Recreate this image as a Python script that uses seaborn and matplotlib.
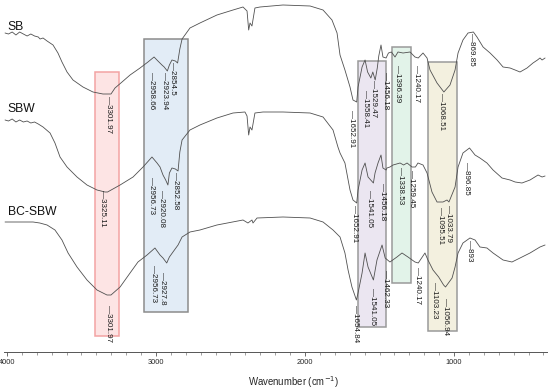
import matplotlib
matplotlib.use("Agg")
import matplotlib.pyplot as plt
from matplotlib.patches import Rectangle
from matplotlib.ticker import MultipleLocator
import seaborn as sns

# spectra (wavenumber in cm-1, transmittance in arbitrary units)
sb_wn = [4013, 3990, 3965, 3940, 3915, 3890, 3865, 3840, 3815, 3790, 3778, 3758, 3731, 3691, 3658, 3631,
         3597, 3557, 3490, 3423, 3356, 3302, 3275, 3228, 3174, 3107, 3054, 3013, 2987, 2960, 2945, 2924,
         2910, 2893, 2870, 2855, 2840, 2825, 2772, 2705, 2591, 2483, 2416, 2389, 2378, 2369, 2356, 2336,
         2302, 2148, 1966, 1879, 1819, 1785, 1765, 1732, 1698, 1678, 1653, 1644, 1617, 1597, 1580, 1558,
         1545, 1529, 1515, 1505, 1490, 1477, 1456, 1440, 1420, 1396, 1376, 1342, 1295, 1262, 1240, 1208,
         1181, 1161, 1114, 1068, 1027, 993, 973, 940, 906, 870, 846, 805, 758, 711, 671, 624,
         590, 557, 510, 470, 440, 423, 409, 389]
sb_t = [319, 318, 320, 317, 320, 318, 316, 318, 316, 315, 313, 314, 311, 307, 299, 290,
        280, 272, 265, 260, 258, 258, 264, 270, 277, 284, 290, 295, 291, 287, 285, 281,
        287, 292, 291, 289, 303, 313, 324, 329, 337, 342, 345, 341, 322, 329, 326, 344,
        345, 347, 346, 342, 332, 319, 297, 282, 265, 252, 250, 265, 285, 292, 280, 274,
        280, 272, 284, 296, 307, 295, 294, 299, 300, 295, 300, 299, 300, 295, 294, 299,
        294, 282, 269, 260, 267, 282, 299, 312, 319, 320, 315, 305, 299, 292, 285, 284,
        282, 280, 284, 289, 292, 294, 292, 294]

sbw_wn = [4013, 3990, 3965, 3940, 3915, 3890, 3865, 3840, 3815, 3790, 3758, 3711, 3678, 3644, 3597, 3530,
          3463, 3396, 3342, 3325, 3241, 3154, 3087, 3027, 2993, 2973, 2953, 2935, 2920, 2910, 2893, 2870,
          2852, 2840, 2825, 2772, 2705, 2591, 2483, 2403, 2389, 2378, 2369, 2356, 2336, 2282, 2148, 1966,
          1879, 1812, 1779, 1765, 1732, 1698, 1678, 1653, 1644, 1617, 1597, 1577, 1541, 1530, 1510, 1490,
          1477, 1456, 1450, 1430, 1409, 1362, 1338, 1315, 1282, 1259, 1242, 1208, 1181, 1148, 1114, 1095,
          1074, 1047, 1034, 993, 973, 940, 896, 859, 826, 779, 738, 678, 624, 590, 544, 490,
          436, 409, 389]
sbw_t = [232, 231, 233, 230, 232, 230, 231, 229, 230, 228, 225, 219, 209, 195, 185, 175,
         167, 162, 160, 160, 167, 175, 185, 195, 189, 185, 177, 172, 167, 179, 184, 183,
         181, 200, 212, 222, 227, 234, 239, 240, 236, 217, 225, 222, 239, 240, 240, 239,
         235, 222, 205, 199, 189, 162, 152, 149, 162, 182, 189, 175, 169, 179, 189, 197,
         184, 182, 184, 185, 187, 189, 187, 189, 185, 185, 189, 187, 179, 160, 150, 150,
         150, 152, 150, 165, 185, 199, 204, 197, 194, 189, 182, 174, 172, 170, 169, 172,
         177, 175, 176]

bc_wn = [4013, 3990, 3965, 3940, 3915, 3890, 3865, 3840, 3825, 3780, 3731, 3678, 3631, 3590, 3530, 3463,
         3396, 3329, 3302, 3241, 3174, 3121, 3060, 3007, 2973, 2953, 2928, 2910, 2886, 2852, 2825, 2772,
         2705, 2591, 2416, 2383, 2356, 2349, 2322, 2148, 1966, 1879, 1812, 1765, 1732, 1711, 1685, 1655,
         1644, 1617, 1597, 1577, 1541, 1517, 1483, 1462, 1430, 1383, 1349, 1309, 1262, 1240, 1195, 1175,
         1141, 1103, 1070, 1057, 1013, 993, 973, 940, 893, 859, 826, 779, 738, 671, 611, 557,
         490, 423, 389]
bc_t = [130, 130, 130, 130, 130, 130, 130, 130, 130, 129, 127, 122, 112, 99, 85, 72,
        62, 57, 57, 65, 79, 90, 97, 104, 97, 94, 89, 95, 100, 107, 115, 120,
        122, 127, 132, 129, 132, 129, 134, 135, 134, 130, 122, 115, 99, 82, 65, 52,
        59, 79, 99, 85, 72, 92, 107, 94, 90, 95, 99, 95, 90, 89, 99, 92,
        82, 75, 67, 65, 74, 85, 99, 109, 114, 112, 105, 104, 99, 92, 90, 94,
        99, 105, 107]

names = ["SB", "SBW", "BC-SBW"]
name_t = [325, 243, 140]

# highlighted regions: wavenumber range and vertical extent
band_hi = [3409, 3080, 1644, 1416, 1174]
band_lo = [3248, 2785, 1456, 1289, 980]
band_bottom = [16, 40, 25, 69, 21]
band_top = [280, 313, 291, 305, 290]
band_fill = ["#fde4e4", "#e2ecf6", "#ebe6f1", "#e2f3e9", "#f3f0df"]
band_edge = ["#f3a3a3", "#8c8c8c", "#9a9a9a", "#9a9a9a", "#9a9a9a"]

# peak labels: text, wavenumber position, top of the text
peak_text = ["3301.97", "2958.66", "2923.94", "2854.5", "1652.91", "1558.41", "1529.47", "1456.18",
             "1396.39", "1240.17", "1068.51", "869.85",
             "3325.11", "2956.73", "2920.08", "2852.58", "1652.91", "1541.05", "1456.18", "1338.53",
             "1259.45", "1095.51", "1033.79", "896.85",
             "3301.97", "2956.73", "2927.8", "1654.84", "1541.05", "1462.33", "1240.17", "1103.23",
             "1056.94", "893"]
peak_wn = [3322, 3027, 2946, 2886, 1685, 1597, 1537, 1463, 1376, 1255, 1081, 886,
           3356, 3027, 2960, 2872, 1671, 1564, 1483, 1356, 1282, 1094, 1040, 913,
           3322, 3020, 2953, 1664, 1550, 1463, 1242, 1128, 1060, 893]
peak_t = [256, 280, 280, 290, 242, 262, 272, 280, 287, 287, 259, 319,
          162, 175, 162, 180, 147, 162, 169, 185, 182, 145, 147, 190,
          47, 87, 80, 47, 64, 82, 85, 70, 54, 112]

sns.set_style("white")
plt.rcParams["font.family"] = ["Liberation Sans", "DejaVu Sans"]

fig = plt.figure(figsize=(5.5, 3.9), dpi=100)
ax = fig.add_axes([4 / 550, 38 / 390, 543 / 550, 352 / 390])

for lo, hi, b, t, fc, ec in zip(band_lo, band_hi, band_bottom, band_top, band_fill, band_edge):
    ax.add_patch(Rectangle((lo, b), hi - lo, t - b, facecolor=fc, edgecolor=ec, lw=1.1, zorder=1))

for wn, t in [(sb_wn, sb_t), (sbw_wn, sbw_t), (bc_wn, bc_t)]:
    sns.lineplot(x=wn, y=t, ax=ax, color="#505050", lw=0.6, estimator=None, zorder=3)

for n, t in zip(names, name_t):
    ax.text(3995, t, n, fontsize=8.7, ha="left", va="center", color="#111111", zorder=4)

for s, w, t in zip(peak_text, peak_wn, peak_t):
    ax.text(w, t, "\u2014" + s, rotation=270, ha="center", va="top", fontsize=5.8,
            color="#1a1a1a", zorder=4)

ax.set_xlim(4020, 376)
ax.set_ylim(0, 352)
ax.set_yticks([])
for sp in ["top", "left", "right"]:
    ax.spines[sp].set_visible(False)
ax.spines["bottom"].set_color("#555555")
ax.spines["bottom"].set_linewidth(0.7)
ax.xaxis.set_major_locator(MultipleLocator(1000))
ax.xaxis.set_minor_locator(MultipleLocator(100))
ax.tick_params(axis="x", which="major", direction="out", length=3, width=0.6, color="#555555",
               labelsize=5.3, pad=2, bottom=True)
ax.tick_params(axis="x", which="minor", direction="out", length=2, width=0.5, color="#777777", bottom=True)
ax.set_xlabel("Wavenumber (cm$^{-1}$)", fontsize=6.9)
ax.xaxis.set_label_coords(0.534, -0.064)

fig.savefig("out.png", dpi=100)
